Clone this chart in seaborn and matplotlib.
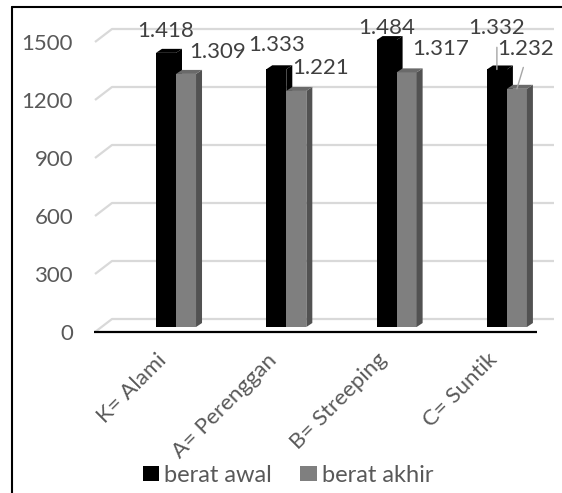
import matplotlib
matplotlib.use("Agg")
import matplotlib.pyplot as plt
import pandas as pd
import seaborn as sns
from matplotlib.patches import Polygon
from matplotlib.lines import Line2D

# ---- data -------------------------------------------------------------
perlakuan = ["K= Alami", "A= Perenggan", "B= Streeping", "C= Suntik"]
berat_awal = [1418, 1333, 1484, 1332]
berat_akhir = [1309, 1221, 1317, 1232]
seri = ["berat awal", "berat akhir"]
y_ticks = [0, 300, 600, 900, 1200, 1500]

df = pd.DataFrame({
    "perlakuan": perlakuan * 2,
    "berat": berat_awal + berat_akhir,
    "seri": [seri[0]] * len(perlakuan) + [seri[1]] * len(perlakuan),
})

# ---- style ------------------------------------------------------------
sns.set_theme(style="white")
plt.rcParams["font.family"] = ["Lato", "DejaVu Sans"]
TXT = "#595959"
LBL = "#404040"
GRID = "#d9d9d9"
FS = 16

W, H = 562, 493
fig = plt.figure(figsize=(W / 100, H / 100), dpi=100)
fig.patch.set_facecolor("white")

# layout (pixels) of the plotting plane
AX_L, AX_R, AX_T, AX_B = 80, 562, 0, 340
GROUP0_X = 176.0          # centre of first category
PX_PER_GROUP = 110.3      # distance between categories
BASE_Y = 327.0            # baseline of the bars
PX_PER_UNIT = 290 / 1500  # vertical scale


def xd(px):
    return (px - GROUP0_X) / PX_PER_GROUP


def dx(px):
    return px / PX_PER_GROUP


def dy(px):
    return px / PX_PER_UNIT


ax = fig.add_axes([AX_L / W, 1 - AX_B / H, (AX_R - AX_L) / W, (AX_B - AX_T) / H])

sns.barplot(data=df, x="perlakuan", y="berat", hue="seri",
            palette=["#000000", "#7f7f7f"], width=0.363, gap=0,
            errorbar=None, saturation=1, linewidth=0, ax=ax)
series_bars = [list(c) for c in ax.containers[:2]]

ax.set_xlim(xd(AX_L), xd(AX_R))
ax.set_ylim((BASE_Y - AX_B) / PX_PER_UNIT, (BASE_Y - AX_T) / PX_PER_UNIT)
ax.set_facecolor("white")
for s in ax.spines.values():
    s.set_visible(False)
ax.set_xlabel("")
ax.set_ylabel("")

# back-wall gridlines with their slanted side-wall segment
FRONT_DY, BACK_DY = dy(5), dy(8)
for v in y_ticks:
    ax.plot([xd(95), xd(112), xd(554)],
            [v - FRONT_DY, v + BACK_DY, v + BACK_DY],
            color=GRID, lw=1.6, zorder=1, solid_capstyle="butt")

# front edge of the floor
ax.plot([xd(94), xd(537)], [-FRONT_DY, -FRONT_DY], color="black", lw=1.6,
        zorder=6, solid_capstyle="butt")

# ---- 3D faces of the columns -----------------------------------------
DEPTH_X, DEPTH_Y = dx(6), dy(4)
face_colors = [("#000000", "#000000"), ("#525252", "#6a6a6a")]
for s_idx, group in enumerate(series_bars):
    z = 3 + s_idx
    side_c, top_c = face_colors[s_idx]
    for p in group:
        x, w, h = p.get_x(), p.get_width(), p.get_height()
        p.set_zorder(z)
        side = Polygon([(x + w, 0), (x + w, h), (x + w + DEPTH_X, h + DEPTH_Y),
                        (x + w + DEPTH_X, DEPTH_Y)], closed=True,
                       facecolor=side_c, edgecolor="none", zorder=z)
        top = Polygon([(x, h), (x + DEPTH_X, h + DEPTH_Y),
                       (x + w + DEPTH_X, h + DEPTH_Y), (x + w, h)], closed=True,
                      facecolor=top_c, edgecolor="none", zorder=z)
        ax.add_patch(side)
        ax.add_patch(top)

# ---- value labels -----------------------------------------------------
label_offsets = [
    [(0, 16), (0, 18), (0, 5.6), (0, 35)],          # berat awal
    [(32, 15.5), (24, 16.5), (34, 17.4), (9, 34)],  # berat akhir
]
PT = 0.72
for s_idx, group in enumerate(series_bars):
    for k, p in enumerate(sorted(group, key=lambda r: r.get_x())):
        ox, oy = label_offsets[s_idx][k]
        v = p.get_height()
        cx = p.get_x() + p.get_width() / 2
        txt = f"{int(round(v)):,}".replace(",", ".")
        kw = {}
        if k == 3:
            kw["arrowprops"] = dict(arrowstyle="-", color="#a6a6a6", lw=1.0,
                                    shrinkA=4, shrinkB=0, relpos=(0.5, 0))
        ax.annotate(txt, xy=(cx, v), xytext=(ox * PT, oy * PT),
                    textcoords="offset points", ha="center", va="baseline",
                    fontsize=FS, color=LBL, zorder=7, **kw)

# ---- axes ticks ---------------------------------------------------------
ax.set_yticks([v - FRONT_DY for v in y_ticks], labels=[str(v) for v in y_ticks])
ax.tick_params(axis="y", length=0, pad=5, labelsize=FS, labelcolor=TXT)
ax.set_xticks([i - dx(20) for i in range(len(perlakuan))], labels=perlakuan,
              rotation=45, ha="right", va="top", rotation_mode="anchor")
ax.tick_params(axis="x", length=0, pad=7.0, labelsize=16, labelcolor=TXT)

# ---- legend -------------------------------------------------------------
sns.move_legend(ax, "center", bbox_to_anchor=(288 / W, 1 - 475 / H),
                bbox_transform=fig.transFigure, ncol=2, frameon=False,
                title="", fontsize=17, handlelength=0.7, handleheight=0.6,
                handletextpad=0.2, columnspacing=1.2)
for t in ax.get_legend().get_texts():
    t.set_color(TXT)

# ---- outer frame --------------------------------------------------------
fig.add_artist(Line2D([12 / W, 12 / W], [0, 1 - 7 / H], transform=fig.transFigure,
                      color="black", lw=1.5))
fig.add_artist(Line2D([12 / W, 1], [1 - 7 / H, 1 - 7 / H], transform=fig.transFigure,
                      color="black", lw=1.5))

fig.savefig("out.png", dpi=100, facecolor="white")
